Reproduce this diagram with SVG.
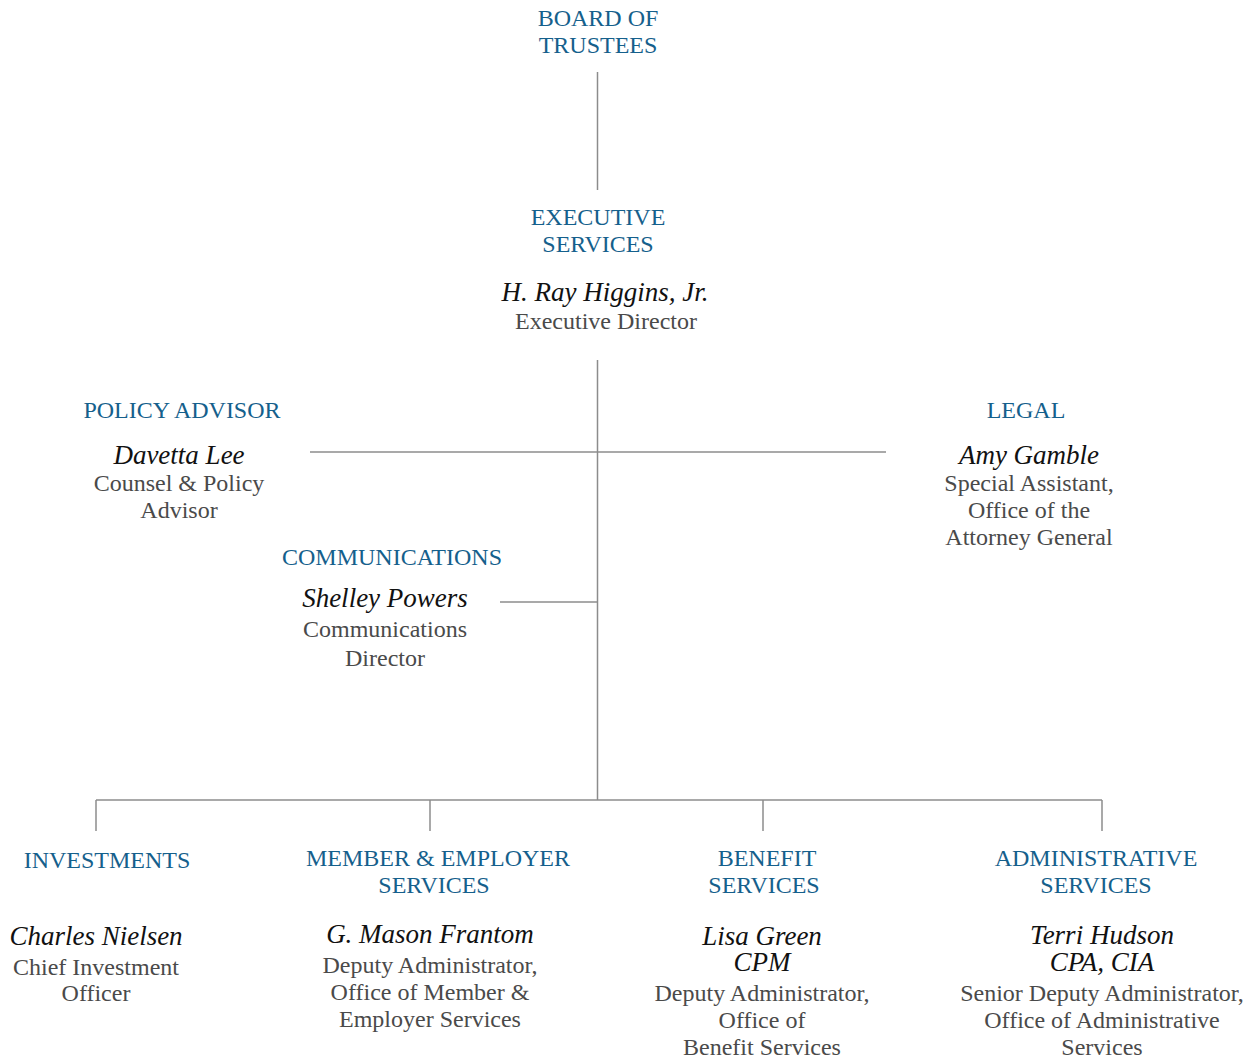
<svg xmlns="http://www.w3.org/2000/svg" width="1258" height="1059" viewBox="0 0 1258 1059">
<style>
text{font-family:"Liberation Serif","Times New Roman",serif;text-anchor:middle}
.h{fill:#15608c;font-size:24px}
.n{fill:#111;font-size:27px;font-style:italic}
.t{fill:#4a4a4a;font-size:24px}
.c line{stroke:#8c8c8c;stroke-width:1.5}
</style>
<rect width="1258" height="1059" fill="#fff"/>
<g class="c" id="connectors">
<line x1="597.5" y1="72" x2="597.5" y2="190"/>
<line x1="597.5" y1="360" x2="597.5" y2="800"/>
<line x1="310" y1="452" x2="886" y2="452"/>
<line x1="500" y1="602" x2="597.5" y2="602"/>
<line x1="96" y1="800" x2="1102" y2="800"/>
<line x1="96" y1="800" x2="96" y2="831"/>
<line x1="430" y1="800" x2="430" y2="831"/>
<line x1="763" y1="800" x2="763" y2="831"/>
<line x1="1102" y1="800" x2="1102" y2="831"/>
</g>
<g id="board"><text class="h" x="598" y="26">BOARD OF</text><text class="h" x="598" y="53">TRUSTEES</text></g>
<g id="executive"><text class="h" x="598" y="225">EXECUTIVE</text><text class="h" x="598" y="252">SERVICES</text>
<text class="n" x="605" y="301">H. Ray Higgins, Jr.</text><text class="t" x="606" y="329">Executive Director</text></g>
<g id="policy"><text class="h" x="182" y="418">POLICY ADVISOR</text><text class="n" x="179" y="464">Davetta Lee</text>
<text class="t" x="179" y="491">Counsel &amp; Policy</text><text class="t" x="179" y="518">Advisor</text></g>
<g id="legal"><text class="h" x="1026" y="418">LEGAL</text><text class="n" x="1029" y="464">Amy Gamble</text>
<text class="t" x="1029" y="491">Special Assistant,</text><text class="t" x="1029" y="518">Office of the</text><text class="t" x="1029" y="545">Attorney General</text></g>
<g id="communications"><text class="h" x="392" y="565">COMMUNICATIONS</text><text class="n" x="385" y="607">Shelley Powers</text>
<text class="t" x="385" y="637">Communications</text><text class="t" x="385" y="666">Director</text></g>
<g id="investments"><text class="h" x="107" y="868">INVESTMENTS</text><text class="n" x="96" y="945">Charles Nielsen</text>
<text class="t" x="96" y="975">Chief Investment</text><text class="t" x="96" y="1001">Officer</text></g>
<g id="member"><text class="h" x="438" y="866">MEMBER &amp; EMPLOYER</text><text class="h" x="434" y="893">SERVICES</text>
<text class="n" x="430" y="943">G. Mason Frantom</text><text class="t" x="430" y="973">Deputy Administrator,</text>
<text class="t" x="430" y="1000">Office of Member &amp;</text><text class="t" x="430" y="1027">Employer Services</text></g>
<g id="benefit"><text class="h" x="767" y="866">BENEFIT</text><text class="h" x="764" y="893">SERVICES</text>
<text class="n" x="762" y="945">Lisa Green</text><text class="n" x="762" y="971">CPM</text>
<text class="t" x="762" y="1001">Deputy Administrator,</text><text class="t" x="762" y="1028">Office of</text><text class="t" x="762" y="1055">Benefit Services</text></g>
<g id="administrative"><text class="h" x="1096" y="866">ADMINISTRATIVE</text><text class="h" x="1096" y="893">SERVICES</text>
<text class="n" x="1102" y="944">Terri Hudson</text><text class="n" x="1102" y="971">CPA, CIA</text>
<text class="t" x="1102" y="1001">Senior Deputy Administrator,</text><text class="t" x="1102" y="1028">Office of Administrative</text><text class="t" x="1102" y="1055">Services</text></g>
</svg>
